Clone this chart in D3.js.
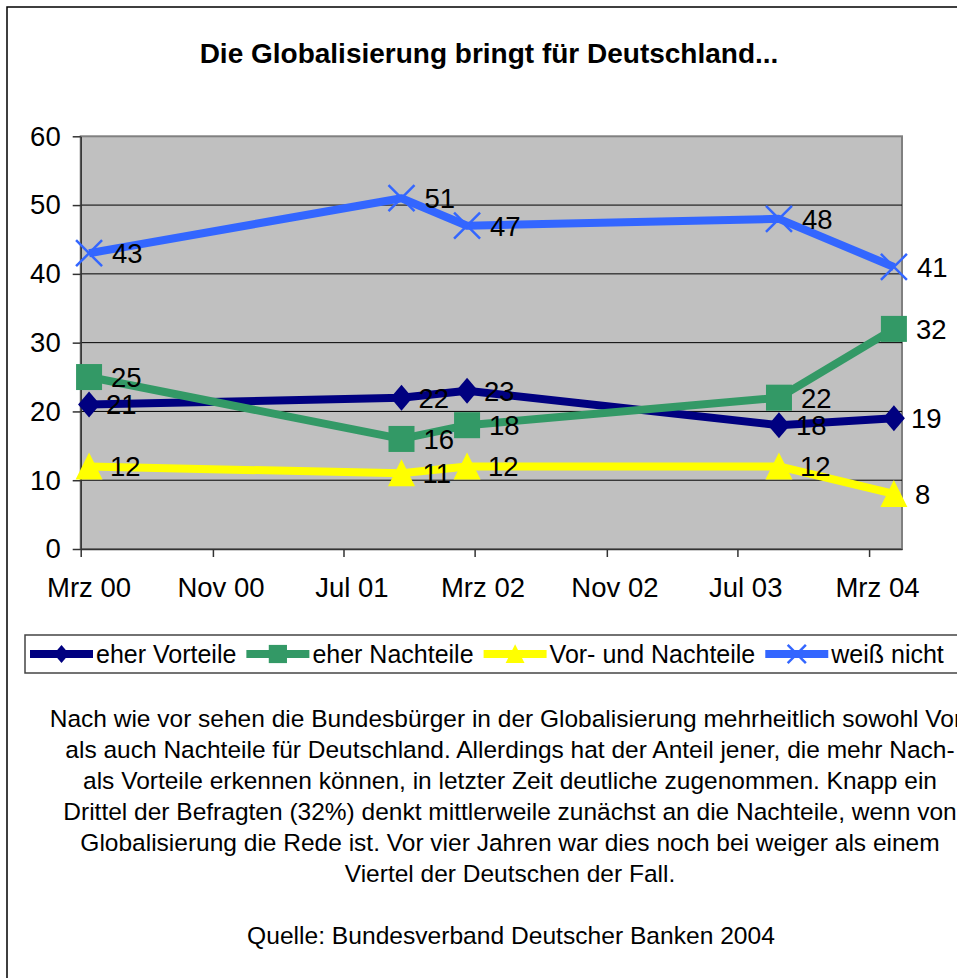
<!DOCTYPE html>
<html>
<head>
<meta charset="utf-8">
<style>
  body { margin: 0; background: #fff; }
  svg { display: block; font-family: Arial, "Liberation Sans", sans-serif; }
</style>
<script src="https://cdn.jsdelivr.net/npm/d3@7/dist/d3.min.js"></script>
<title>Die Globalisierung bringt für Deutschland...</title>
</head>
<body>
<div id="chart"></div>
<script>
// survey dates (month of survey)
const surveyMonths = ["2000-03", "2001-10", "2002-02", "2003-09", "2004-04"];

// values in percent
const eherVorteile = [21, 22, 23, 18, 19];
const eherNachteile = [25, 16, 18, 22, 32];
const vorUndNachteile = [12, 11, 12, 12, 8];
const weissNicht = [43, 51, 47, 48, 41];

const seriesNames = ["eher Vorteile", "eher Nachteile", "Vor- und Nachteile", "weiß nicht"];

// x axis ticks every 8 months
const tickMonths = ["2000-03", "2000-11", "2001-07", "2002-03", "2002-11", "2003-07", "2004-03"];
const tickLabels = ["Mrz 00", "Nov 00", "Jul 01", "Mrz 02", "Nov 02", "Jul 03", "Mrz 04"];
const yTicks = [0, 10, 20, 30, 40, 50, 60];

const textLines = [
  "Nach wie vor sehen die Bundesbürger in der Globalisierung mehrheitlich sowohl Vor-",
  "als auch Nachteile für Deutschland. Allerdings hat der Anteil jener, die mehr Nach-",
  "als Vorteile erkennen können, in letzter Zeit deutliche zugenommen. Knapp ein",
  "Drittel der Befragten (32%) denkt mittlerweile zunächst an die Nachteile, wenn von",
  "Globalisierung die Rede ist. Vor vier Jahren war dies noch bei weiger als einem",
  "Viertel der Deutschen der Fall."
];
const source = "Quelle: Bundesverband Deutscher Banken 2004";

const width = 957, height = 978;
const plot = { left: 80.7, right: 902, top: 136.3, bottom: 549 };
const chartFont = 27.5;

const parseMonth = d3.timeParse("%Y-%m");

const svg = d3.select("#chart").append("svg")
  .attr("width", width)
  .attr("height", height);

// outer frame (right/bottom edges run off the page)
svg.append("rect")
  .attr("x", 7).attr("y", 7)
  .attr("width", 1100).attr("height", 1100)
  .attr("fill", "#fff")
  .attr("stroke", "#000")
  .attr("stroke-width", 1.5);

svg.append("text")
  .attr("x", 489).attr("y", 63)
  .attr("text-anchor", "middle")
  .attr("font-size", 28)
  .attr("font-weight", "bold")
  .text("Die Globalisierung bringt für Deutschland...");

// scales
const x = d3.scaleTime()
  .domain([parseMonth("2000-03"), parseMonth("2004-05")])
  .range([plot.left, plot.right]);

const y = d3.scaleLinear()
  .domain([0, 60])
  .range([plot.bottom, plot.top]);

// points sit in the middle of their month
const midMonth = m => {
  const d = parseMonth(m);
  return (x(d) + x(d3.timeMonth.offset(d, 1))) / 2;
};

// plot area
svg.append("rect")
  .attr("x", plot.left).attr("y", plot.top)
  .attr("width", plot.right - plot.left)
  .attr("height", plot.bottom - plot.top)
  .attr("fill", "#c0c0c0")
  .attr("stroke", "#808080")
  .attr("stroke-width", 2);

// gridlines
svg.append("g")
  .selectAll("line")
  .data(yTicks.filter(t => t > 0 && t < 60))
  .join("line")
  .attr("x1", plot.left).attr("x2", plot.right)
  .attr("y1", d => y(d)).attr("y2", d => y(d))
  .attr("stroke", "#000")
  .attr("stroke-width", 1);

// y axis
const yAxis = svg.append("g")
  .attr("transform", `translate(${plot.left},0)`)
  .call(d3.axisLeft(y).tickValues(yTicks).tickSize(8).tickPadding(12).tickSizeOuter(0));
yAxis.select(".domain").attr("stroke", "#333").attr("stroke-width", 1.5);
yAxis.selectAll(".tick line").attr("stroke", "#333").attr("stroke-width", 1.5);
yAxis.selectAll("text")
  .attr("font-size", chartFont)
  .attr("font-family", "Arial, 'Liberation Sans', sans-serif")
  .attr("fill", "#000");

// x axis
const xAxis = svg.append("g")
  .attr("transform", `translate(0,${plot.bottom})`)
  .call(d3.axisBottom(x).tickValues(tickMonths.map(parseMonth)).tickSize(8).tickSizeOuter(0).tickFormat(""));
xAxis.select(".domain").attr("stroke", "#333").attr("stroke-width", 1.5);
xAxis.selectAll(".tick line").attr("stroke", "#333").attr("stroke-width", 1.5);

svg.append("g")
  .selectAll("text")
  .data(tickMonths)
  .join("text")
  .attr("x", d => midMonth(d))
  .attr("y", 597)
  .attr("text-anchor", "middle")
  .attr("font-size", chartFont)
  .text((d, i) => tickLabels[i]);

// series styles
const series = [
  { name: seriesNames[0], values: eherVorteile, color: "#000080", marker: "diamond", labelDx: 17 },
  { name: seriesNames[1], values: eherNachteile, color: "#339966", marker: "square", labelDx: 22 },
  { name: seriesNames[2], values: vorUndNachteile, color: "#ffff00", marker: "triangle", labelDx: 21 },
  { name: seriesNames[3], values: weissNicht, color: "#3366ff", marker: "cross", labelDx: 23 }
];

function drawMarker(g, type, color, s) {
  if (type === "diamond") {
    g.append("path")
      .attr("d", `M0,${-13 * s}L${11 * s},0L0,${13 * s}L${-11 * s},0Z`)
      .attr("fill", color);
  } else if (type === "square") {
    g.append("rect")
      .attr("x", -13 * s).attr("y", -13 * s)
      .attr("width", 26 * s).attr("height", 26 * s)
      .attr("fill", color);
  } else if (type === "triangle") {
    g.append("path")
      .attr("d", `M0,${-14 * s}L${13.5 * s},${13 * s}L${-13.5 * s},${13 * s}Z`)
      .attr("fill", color);
  } else {
    g.append("path")
      .attr("d", `M${-13 * s},${-13 * s}L${13 * s},${13 * s}M${13 * s},${-13 * s}L${-13 * s},${13 * s}`)
      .attr("stroke", color)
      .attr("stroke-width", 2.5)
      .attr("fill", "none");
  }
}

const line = d3.line()
  .x((d, i) => midMonth(surveyMonths[i]))
  .y(d => y(d));

series.forEach(s => {
  const g = svg.append("g");
  g.append("path")
    .datum(s.values)
    .attr("d", line)
    .attr("fill", "none")
    .attr("stroke", s.color)
    .attr("stroke-width", 8)
    .attr("stroke-linejoin", "round");
  s.values.forEach((v, i) => {
    const m = g.append("g")
      .attr("transform", `translate(${midMonth(surveyMonths[i])},${y(v)})`);
    drawMarker(m, s.marker, s.color, 1);
  });
});

// data labels on top
series.forEach(s => {
  svg.append("g")
    .selectAll("text")
    .data(s.values)
    .join("text")
    .attr("x", (d, i) => midMonth(surveyMonths[i]) + s.labelDx)
    .attr("y", d => y(d))
    .attr("dy", "0.36em")
    .attr("font-size", chartFont)
    .text(d => d);
});

// legend
const legend = svg.append("g");
legend.append("rect")
  .attr("x", 25).attr("y", 635)
  .attr("width", 1000).attr("height", 38)
  .attr("fill", "#fff")
  .attr("stroke", "#444")
  .attr("stroke-width", 1.5);

let lx = 30;
series.forEach(s => {
  const item = legend.append("g").attr("transform", `translate(${lx},654)`);
  item.append("line")
    .attr("x1", 0).attr("x2", 63)
    .attr("stroke", s.color)
    .attr("stroke-width", 8);
  const m = item.append("g").attr("transform", "translate(31.5,0)");
  drawMarker(m, s.marker, s.color, 0.7);
  const t = item.append("text")
    .attr("x", 66).attr("y", 9)
    .attr("font-size", 25)
    .text(s.name);
  lx += 66 + t.node().getComputedTextLength() + 10;
});

// description text
svg.append("g")
  .selectAll("text")
  .data(textLines)
  .join("text")
  .attr("x", 510)
  .attr("y", (d, i) => 727 + i * 31)
  .attr("text-anchor", "middle")
  .attr("font-size", 24.5)
  .text(d => d);

svg.append("text")
  .attr("x", 511).attr("y", 944)
  .attr("text-anchor", "middle")
  .attr("font-size", 24.6)
  .text(source);
</script>
</body>
</html>
